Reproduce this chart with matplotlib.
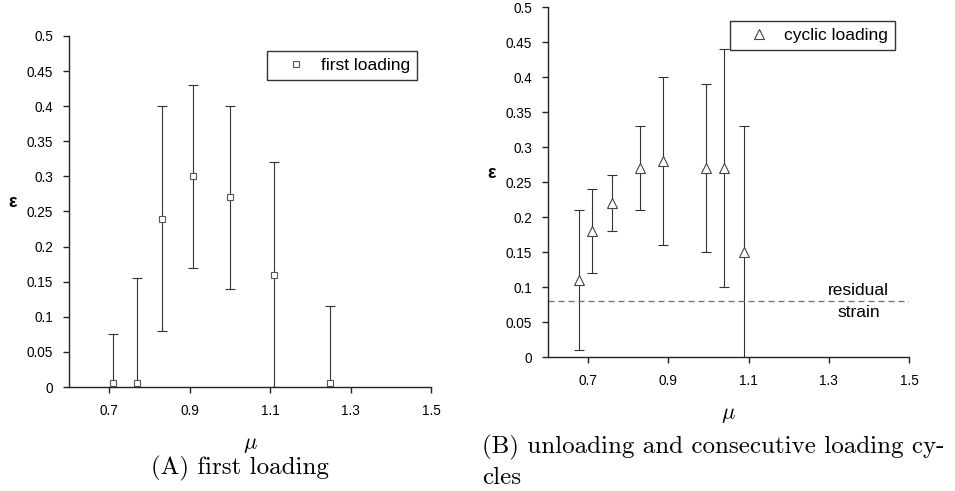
import numpy as np
import matplotlib
matplotlib.use("Agg")
import matplotlib.pyplot as plt

plt.rcParams['font.family'] = ['Liberation Sans', 'DejaVu Sans']
plt.rcParams['mathtext.fontset'] = 'cm'

# first loading
mu_first = [0.71, 0.77, 0.83, 0.909, 1.0, 1.11, 1.25]
eps_first = [0.005, 0.005, 0.24, 0.30, 0.27, 0.16, 0.005]
err_first = [0.07, 0.15, 0.16, 0.13, 0.13, 0.16, 0.11]

# unloading / cyclic loading
mu_cyc = [0.678, 0.709, 0.759, 0.83, 0.887, 0.995, 1.039, 1.089]
eps_cyc = [0.11, 0.18, 0.22, 0.27, 0.28, 0.27, 0.27, 0.15]
err_cyc = [0.10, 0.06, 0.04, 0.06, 0.12, 0.12, 0.17, 0.18]

residual_strain = 0.08

xticks = [0.7, 0.9, 1.1, 1.3, 1.5]
yticks = np.arange(0, 0.501, 0.05)
ytick_labels = ['0', '0.05', '0.1', '0.15', '0.2', '0.25', '0.3', '0.35', '0.4', '0.45', '0.5']

fig = plt.figure(figsize=(9.55, 4.91), dpi=100)
ax1 = fig.add_axes([0.0723, 0.2118, 0.379, 0.7149])
ax2 = fig.add_axes([0.5738, 0.2729, 0.378, 0.7128])


def style(ax):
    ax.set_xlim(0.6, 1.5)
    ax.set_ylim(0, 0.5)
    ax.set_xticks(xticks)
    ax.set_xticklabels([str(t) for t in xticks])
    ax.set_yticks(yticks)
    ax.set_yticklabels(ytick_labels)
    for s in ['top', 'right']:
        ax.spines[s].set_visible(False)
    for s in ['left', 'bottom']:
        ax.spines[s].set_linewidth(1.0)
        ax.spines[s].set_color('#222222')
    ax.tick_params(direction='out', length=4, width=1.0, color='#222222',
                   labelsize=9.8)
    ax.tick_params(axis='x', pad=8.5)
    ax.tick_params(axis='y', pad=7.5)
    ax.set_ylabel('ε', fontsize=13, fontweight='bold', rotation=0, labelpad=10)
    ax.set_xlabel(r'$\mu$', fontsize=16, labelpad=11)


def legend(ax, anchor):
    ax.legend(loc='upper right', bbox_to_anchor=anchor, fancybox=False,
              edgecolor='#333333', framealpha=1, fontsize=12.5, handletextpad=0.2,
              borderpad=0.4, handlelength=2.5, borderaxespad=0)


ax1.errorbar(mu_first, eps_first, yerr=err_first, fmt='none', ecolor='#333333',
             elinewidth=0.8, capsize=3.5, capthick=0.8)
ax1.plot(mu_first, eps_first, 's', ms=4.8, mfc='white', mec='#555555', mew=0.8,
         label='first loading')
style(ax1)
legend(ax1, (0.961, 0.957))

ax2.errorbar(mu_cyc, eps_cyc, yerr=err_cyc, fmt='none', ecolor='#333333',
             elinewidth=0.8, capsize=3.5, capthick=0.8)
ax2.plot(mu_cyc, eps_cyc, '^', ms=7.5, mfc='white', mec='#444444', mew=0.8,
         label='cyclic loading')
ax2.axhline(residual_strain, color='#777777', ls=(0, (4.3, 2.9)), lw=1.0)
ax2.text(1.375, residual_strain + 0.005, 'residual', ha='center', va='bottom', fontsize=12.5)
ax2.text(1.375, residual_strain - 0.005, 'strain', ha='center', va='top', fontsize=12.5)
style(ax2)
legend(ax2, (0.961, 0.96))

fig.text(0.2513, 0.0346, '(A) first loading', fontsize=18, family='cmr10',
         ha='center', va='baseline')
fig.text(0.505, 0.0774, '(B) unloading and consecutive loading cy-', fontsize=18,
         family='cmr10', ha='left', va='baseline')
fig.text(0.505, 0.0143, 'cles', fontsize=18, family='cmr10', ha='left', va='baseline')

fig.savefig('out.png', dpi=100)
